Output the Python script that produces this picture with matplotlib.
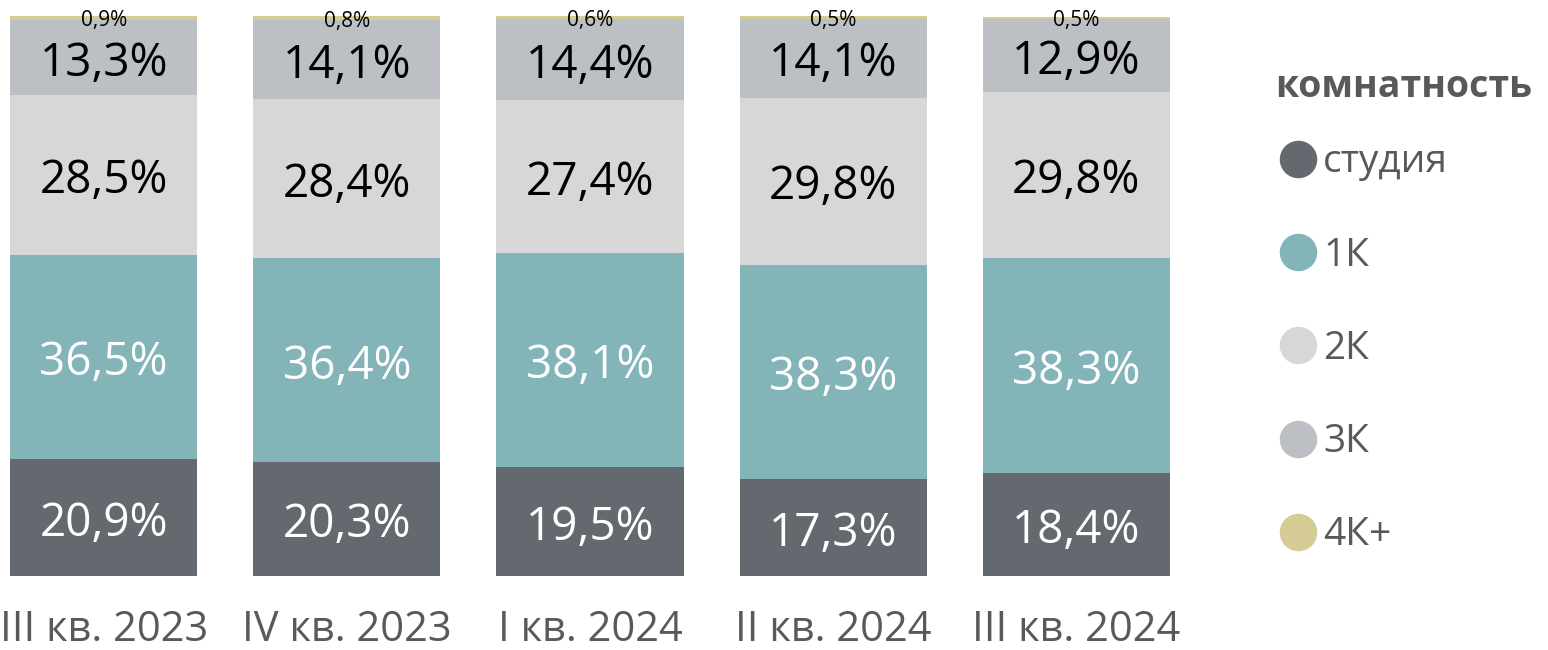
import matplotlib.pyplot as plt
from matplotlib.lines import Line2D
import numpy as np

plt.rcParams['font.family'] = ['Open Sans', 'DejaVu Sans']

kvartaly = ['III кв. 2023', 'IV кв. 2023', 'I кв. 2024', 'II кв. 2024', 'III кв. 2024']
tipy = ['студия', '1К', '2К', '3К', '4К+']
studiya = [20.9, 20.3, 19.5, 17.3, 18.4]
k1 = [36.5, 36.4, 38.1, 38.3, 38.3]
k2 = [28.5, 28.4, 27.4, 29.8, 29.8]
k3 = [13.3, 14.1, 14.4, 14.1, 12.9]
k4 = [0.9, 0.8, 0.6, 0.5, 0.5]

cores = ['#63696F', '#83B4B8', '#D7D7D7', '#BCC0C4', '#D5CB94']
cor_texto = ['white', 'white', 'black', 'black']
cinza = '#595959'

fig = plt.figure(figsize=(15.48, 6.5), dpi=100)
ax = fig.add_axes([10 / 1548, 74 / 650, 1160 / 1548, 560 / 650])

x = np.arange(len(kvartaly))
largura = 0.77
base = np.zeros(len(kvartaly))
series = [studiya, k1, k2, k3, k4]
for i, (vals, cor) in enumerate(zip(series, cores)):
    vals = np.array(vals)
    ax.bar(x, vals, largura, bottom=base, color=cor, edgecolor='none')
    for j, v in enumerate(vals):
        txt = f'{v:.1f}%'.replace('.', ',')
        if i < 4:
            ax.text(x[j], base[j] + v / 2 - 1.1, txt, ha='center', va='center',
                    fontsize=33, color=cor_texto[i])
        else:
            ax.text(x[j], base[j] + v / 2 - 0.5, txt, ha='center', va='center',
                    fontsize=15, color='black')
    base = base + vals

ax.set_xlim(-largura / 2, len(kvartaly) - 1 + largura / 2)
ax.set_ylim(0, 100)
ax.set_xticks(x)
ax.set_xticklabels(kvartaly, fontsize=30, color=cinza)
ax.tick_params(axis='x', length=0, pad=24)
ax.set_yticks([])
for s in ax.spines.values():
    s.set_visible(False)

# legenda
fig.text(1275 / 1548, 1 - 87 / 650, 'комнатность', ha='left', va='center',
         fontsize=27, fontweight='bold', color=cinza)
handles = [Line2D([0], [0], marker='o', linestyle='none', markersize=27,
                  markerfacecolor=c, markeredgecolor='none') for c in cores]
leg = fig.legend(handles, tipy, loc='upper left', bbox_to_anchor=(1259 / 1548, 1 - 124 / 650),
                 frameon=False, fontsize=28, labelcolor=cinza, handlelength=1.0,
                 handletextpad=0.15, labelspacing=1.42, borderpad=0)

fig.savefig('out.png', dpi=100)
